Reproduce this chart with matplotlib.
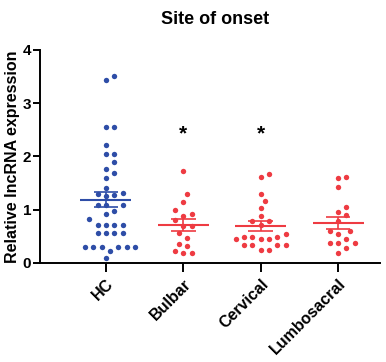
import numpy as np
import matplotlib
matplotlib.use('Agg')
import matplotlib.pyplot as plt

plt.rcParams['font.family'] = ['Liberation Sans', 'DejaVu Sans']
plt.rcParams['font.weight'] = 'bold'

groups = ['HC', 'Bulbar', 'Cervical', 'Lumbosacral']
hc = [3.51, 3.44, 2.56, 2.56, 2.22, 2.04, 2.04, 1.89, 1.77, 1.68, 1.59, 1.40,
      1.32, 1.30, 1.28, 1.25, 1.08, 1.08, 1.08, 0.97, 0.92, 0.82,
      0.71, 0.71, 0.71, 0.71, 0.56, 0.56, 0.56, 0.56,
      0.29, 0.29, 0.29, 0.29, 0.29, 0.29, 0.22, 0.09]
bulbar = [1.73, 1.29, 1.15, 0.99, 0.92, 0.88, 0.80, 0.69, 0.69, 0.56, 0.47,
          0.36, 0.32, 0.23, 0.19, 0.19]
cervical = [1.66, 1.62, 1.29, 1.16, 1.03, 0.88, 0.79, 0.78, 0.71, 0.55,
            0.49, 0.49, 0.49, 0.44, 0.44, 0.44, 0.34, 0.34, 0.34, 0.34, 0.24, 0.24]
lumbo = [1.61, 1.59, 1.42, 1.04, 0.95, 0.89, 0.79, 0.59, 0.59, 0.54, 0.45,
         0.38, 0.38, 0.38, 0.27, 0.18]
data = [hc, bulbar, cervical, lumbo]
colors = ['#2E4DA7', '#EE3B42', '#EE3B42', '#EE3B42']
star_groups = [1, 2]
star_y = 2.42

fig = plt.figure(figsize=(3.86, 3.62), dpi=100)
ax = fig.add_axes([0.104, 0.274, 0.88, 0.588])
ax.set_xlim(-0.85, 3.54)
ax.set_ylim(0, 4)


def swarm(vals, xc, gap=8.3):
    # greedy beeswarm in pixel space
    tr = ax.transData
    placed = []
    order = np.argsort(vals)
    out = np.zeros(len(vals))
    for i in order:
        px, py = tr.transform((xc, vals[i]))
        k = 0
        while True:
            cands = [0] if k == 0 else [k * gap, -k * gap]
            done = False
            for c in cands:
                if all((px + c - a) ** 2 + (py - b) ** 2 >= gap ** 2 * 0.9 for a, b in placed):
                    placed.append((px + c, py))
                    out[i] = tr.inverted().transform((px + c, py))[0]
                    done = True
                    break
            if done:
                break
            k += 0.5
    return out


for i, vals in enumerate(data):
    vals = np.array(vals)
    xs = swarm(vals, i)
    ax.scatter(xs, vals, s=15, color=colors[i], zorder=3, linewidths=0)
    m = vals.mean()
    sem = vals.std(ddof=1) / np.sqrt(len(vals))
    ax.hlines(m, i - 0.33, i + 0.33, color=colors[i], lw=1.5, zorder=4)
    ax.vlines(i, m - sem, m + sem, color=colors[i], lw=1.2, zorder=4)
    ax.hlines([m - sem, m + sem], i - 0.16, i + 0.16, color=colors[i], lw=1.2, zorder=4)

for g in star_groups:
    ax.text(g, star_y, '*', ha='center', va='center', fontsize=15, fontweight='bold')

ax.set_xticks(range(len(groups)))
ax.set_xticklabels(groups, rotation=45, ha='right', rotation_mode='anchor', fontsize=11.5)
ax.set_yticks([0, 1, 2, 3, 4])
ax.tick_params(axis='y', labelsize=11, width=1.4, length=5, pad=1.5)
ax.tick_params(axis='x', width=1.4, length=6.5, pad=3)
for s in ['top', 'right']:
    ax.spines[s].set_visible(False)
for s in ['left', 'bottom']:
    ax.spines[s].set_linewidth(1.4)
ax.set_ylabel('Relative lncRNA expression', fontsize=11.5, fontweight='bold')
ax.yaxis.set_label_coords(-0.058, 0.5)
fig.text(0.557, 0.945, 'Site of onset', ha='center', va='center', fontsize=13, fontweight='bold')

fig.savefig('out.png', dpi=100)
